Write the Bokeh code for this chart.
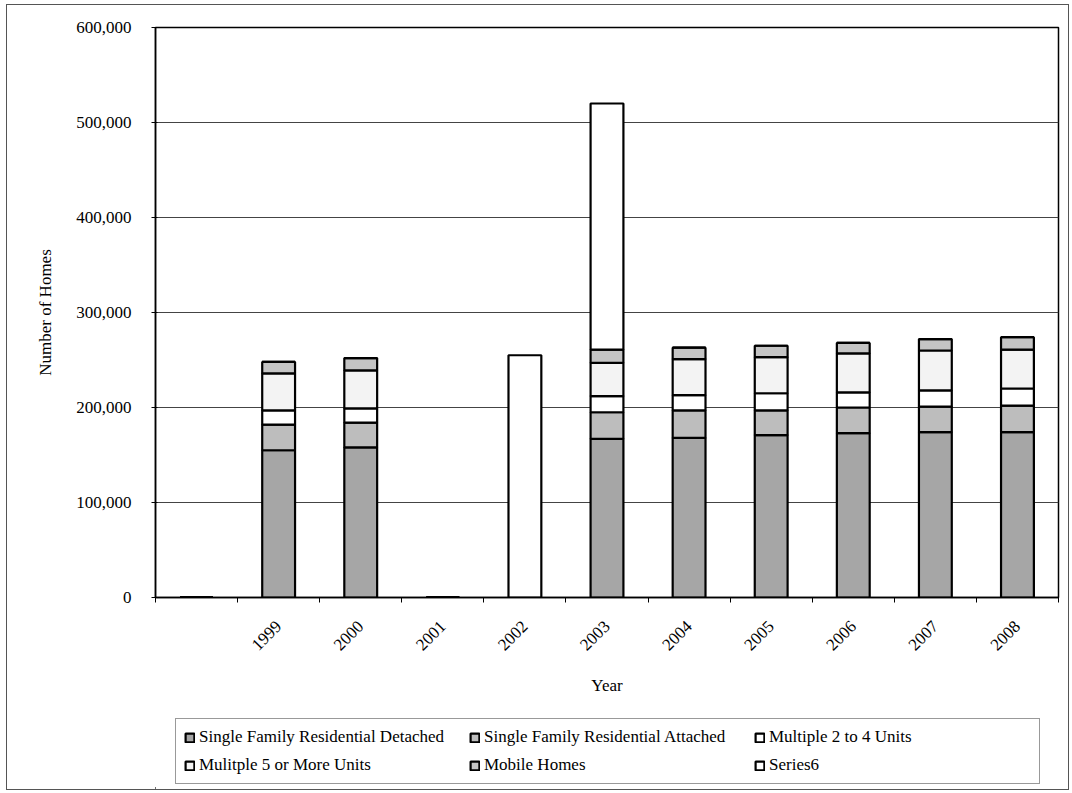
import math
from bokeh.plotting import figure
from bokeh.layouts import column
from bokeh.models import ColumnDataSource, FixedTicker, NumeralTickFormatter, Legend
from bokeh.embed import file_html
from bokeh.resources import INLINE

categories = ["", "1999", "2000", "2001", "2002", "2003", "2004", "2005", "2006", "2007", "2008"]
detached = [0, 155000, 158000, 0, 0, 167000, 168000, 171000, 173000, 174000, 174000]
attached = [0, 27000, 26000, 0, 0, 28000, 29000, 26000, 27000, 27000, 28000]
multi_2_4 = [0, 15000, 15000, 0, 0, 17000, 16000, 18000, 16000, 17000, 18000]
multi_5_plus = [0, 39000, 40000, 0, 0, 35000, 38000, 38000, 41000, 42000, 41000]
mobile = [0, 12000, 13000, 0, 0, 14000, 12000, 12000, 11000, 12000, 13000]
series6 = [0, 0, 0, 0, 255000, 259000, 0, 0, 0, 0, 0]
y_ticks = [0, 100000, 200000, 300000, 400000, 500000, 600000]

series_names = ["Single Family Residential Detached", "Single Family Residential Attached",
                "Multiple 2 to 4 Units", "Mulitple 5 or More Units", "Mobile Homes", "Series6"]
keys = ["det", "att", "m24", "m5", "mob", "s6"]
fills = ["#a6a6a6", "#bdbdbd", "#ffffff", "#f3f3f3", "#c4c4c4", "#ffffff"]

xpos = [i + 0.5 for i in range(len(categories))]
source = ColumnDataSource(dict(x=xpos, det=detached, att=attached, m24=multi_2_4,
                               m5=multi_5_plus, mob=mobile, s6=series6))

FONT = "Liberation Serif"

p = figure(frame_width=903, frame_height=570, min_border_left=148, min_border_right=10,
           min_border_top=22, min_border_bottom=105,
           x_range=(0, len(categories)), y_range=(0, 600000),
           output_backend="svg", toolbar_location=None, tools="")

renderers = p.vbar_stack(keys, x="x", width=0.4, source=source, fill_color=fills,
                         line_color="black", line_width=2.2)

# axes
p.xaxis.ticker = FixedTicker(ticks=xpos, minor_ticks=list(range(len(categories) + 1)))
p.xaxis.major_label_overrides = {x: c for x, c in zip(xpos, categories)}
p.xaxis.minor_tick_line_color = "black"
p.xaxis.minor_tick_out = 5
p.xaxis.minor_tick_in = 0
p.xaxis.major_label_orientation = math.pi / 4
p.xaxis.major_label_standoff = 20
p.xaxis.axis_label = "Year"
p.xaxis.axis_label_standoff = 18

p.yaxis.ticker = FixedTicker(ticks=y_ticks)
p.yaxis.formatter = NumeralTickFormatter(format="0,0")
p.yaxis.minor_tick_line_color = None
p.yaxis.major_tick_out = 4
p.yaxis.major_tick_in = 2
p.yaxis.major_label_standoff = 20
p.yaxis.axis_label = "Number of Homes"
p.yaxis.axis_label_standoff = 18

for ax in (p.xaxis[0], p.yaxis[0]):
    ax.axis_line_color = "black"
    ax.axis_line_width = 1.5
    ax.major_label_text_font = FONT
    ax.major_label_text_font_size = "17px"
    ax.major_label_text_color = "black"
    ax.axis_label_text_font = FONT
    ax.axis_label_text_font_size = "17px"
    ax.axis_label_text_font_style = "normal"
    ax.axis_label_text_color = "black"
p.xaxis.major_tick_line_color = None
p.yaxis.major_tick_line_color = "black"

p.xgrid.grid_line_color = None
p.ygrid.ticker = FixedTicker(ticks=y_ticks)
p.ygrid.grid_line_color = "#444444"
p.ygrid.grid_line_width = 1.2
p.outline_line_color = "black"
p.outline_line_width = 1.5

# legend panel (same chart, below the axis); frame aligned with the main plot.
# Legend proxies: same styles, a single degenerate entry placed outside the view.
q = figure(frame_width=903, frame_height=70, min_border_left=148, min_border_right=10,
           min_border_top=16, min_border_bottom=1,
           x_range=(0, 1), y_range=(0, 1), x_axis_type=None, y_axis_type=None,
           output_backend="svg", toolbar_location=None, tools="")
q.outline_line_color = None
proxy_source = ColumnDataSource(dict(x=[-10], **{k: [0] for k in keys}))
legend_renderers = q.vbar_stack(keys, x="x", width=0.4, source=proxy_source, fill_color=fills,
                                line_color="black", line_width=2.2)

legend = Legend(items=[(n, [r]) for n, r in zip(series_names, legend_renderers)],
                location=(20, 4), orientation="horizontal", ncols=3)
legend.label_text_font = FONT
legend.label_text_font_size = "17px"
legend.label_text_color = "black"
legend.glyph_width = 11
legend.glyph_height = 11
legend.label_standoff = 4
legend.label_width = 262
legend.label_height = 20
legend.spacing = 8
legend.padding = 8
legend.margin = 0
legend.border_line_color = "#333333"
legend.border_line_width = 1
legend.background_fill_alpha = 1
q.add_layout(legend, "center")

layout = column(p, q, spacing=0)
layout.styles = {"border": "1px solid #555", "margin": "4px 0px 0px 6px"}

open("out.html", "w").write(file_html(layout, INLINE))
